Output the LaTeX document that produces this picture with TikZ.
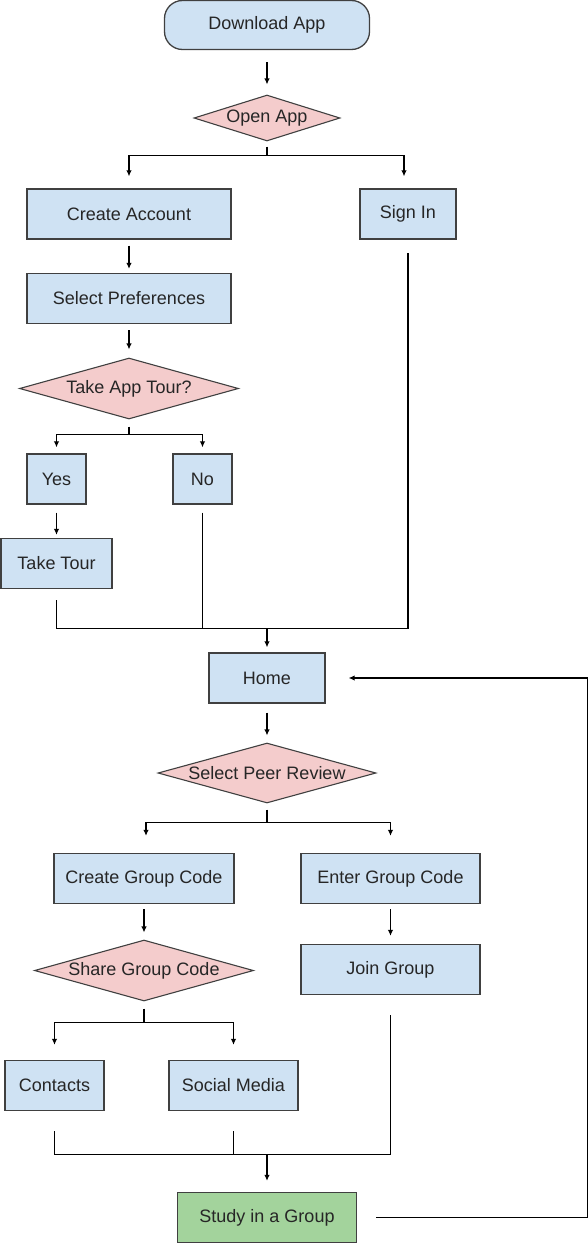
\documentclass[tikz,border=0pt]{standalone}
\usepackage{fontspec}
\setmainfont{Liberation Sans}
\usetikzlibrary{shapes.geometric,arrows.meta}
\definecolor{boxblue}{HTML}{CFE2F3}
\definecolor{decpink}{HTML}{F4CCCC}
\definecolor{endgreen}{HTML}{A3D39C}
\definecolor{rim}{HTML}{404040}
\definecolor{ink}{HTML}{262626}
\tikzset{
	box/.style={draw=rim, fill=boxblue, line width=1.3pt, minimum height=50, inner sep=0, text=ink},
	startbox/.style={box, rounded corners=18pt},
	decide/.style={diamond, draw=rim, fill=decpink, line width=1.1pt, inner sep=0, aspect=3.5, text=ink},
	arr/.style={line width=1.2pt, -{Latex[length=6pt,width=5.5pt]}},
	link/.style={line width=1.2pt}
}
\begin{document}
\begin{tikzpicture}[x=1pt, y=-1pt, font=\fontsize{18}{21}\selectfont]
	\useasboundingbox (0,0) rectangle (588,1245);
	% top part
	\node[startbox, minimum width=205, minimum height=49] (dl) at (267,25) {Download App};
	\node[decide, minimum width=146, minimum height=46] (open) at (267,118) {Open App};
	\node[box, minimum width=204] (acct) at (129,214) {Create Account};
	\node[box, minimum width=96] (sign) at (408,214) {Sign In};
	\node[box, minimum width=204] (pref) at (129,298.5) {Select Preferences};
	\node[decide, minimum width=219, minimum height=61] (tour) at (129,388.5) {Take App Tour?};
	\node[box, minimum width=59] (yes) at (56.5,479) {Yes};
	\node[box, minimum width=59] (no) at (202.5,479) {No};
	\node[box, minimum width=111] (take) at (56.5,563.5) {Take Tour};
	% middle part
	\node[box, minimum width=116] (home) at (267,678) {Home};
	\node[decide, minimum width=218, minimum height=60] (peer) at (267,773) {Select Peer Review};
	\node[box, minimum width=180] (create) at (144,878.5) {Create Group Code};
	\node[box, minimum width=179] (enter) at (390.5,878.5) {Enter Group Code};
	\node[decide, minimum width=219, minimum height=61] (share) at (144,970.5) {Share Group Code};
	\node[box, minimum width=179] (join) at (390.5,969.5) {Join Group};
	\node[box, minimum width=99] (cont) at (54.5,1085.5) {Contacts};
	\node[box, minimum width=129] (social) at (233.5,1085.5) {Social Media};
	\node[box, fill=endgreen, minimum width=179] (study) at (267,1217.5) {Study in a Group};

	\path (open.south) ++(0,14) coordinate (s1);
	\path (tour.south) ++(0,15) coordinate (s2);
	\path (home.north) ++(0,-24) coordinate (m1);
	\path (peer.south) ++(0,19) coordinate (s3);
	\path (share.south) ++(0,21) coordinate (s4);
	\path (study.north) ++(0,-37) coordinate (m2);
	\path (study.east) ++(230,0) coordinate (fb);

	\draw[arr] ([yshift=-12pt]dl.south) -- ([yshift=10pt]open.north);
	\draw[link] ([yshift=-5pt]open.south) -- (s1);
	\draw[arr] (s1) -| ([yshift=12pt]acct.north);
	\draw[arr] (s1) -| ([xshift=-4pt,yshift=12pt]sign.north);
	\draw[arr] ([yshift=-6pt]acct.south) -- ([yshift=4pt]pref.north);
	\draw[arr] ([yshift=-6pt]pref.south) -- ([yshift=8pt]tour.north);
	\draw[link] ([yshift=-7pt]tour.south) -- (s2);
	\draw[arr] (s2) -| ([yshift=6pt]yes.north);
	\draw[arr] (s2) -| ([yshift=6pt]no.north);
	\draw[arr] ([yshift=-8pt]yes.south) -- ([yshift=3pt]take.north);
	\draw[link] ([yshift=-11pt]take.south) -- (take.south |- m1) -- (sign.south |- m1) -- ([yshift=-13pt]sign.south);
	\draw[link] ([yshift=-8pt]no.south) -- (no.south |- m1);
	\draw[arr] (m1) -- ([yshift=5pt]home.north);

	\draw[arr] ([yshift=-9pt]home.south) -- ([yshift=7pt]peer.north);
	\draw[link] ([yshift=-6pt]peer.south) -- (s3);
	\draw[arr] (s3) -| ([xshift=2pt,yshift=17pt]create.north);
	\draw[arr] (s3) -| ([yshift=17pt]enter.north);
	\draw[arr] ([yshift=-5pt]create.south) -- ([yshift=7pt]share.north);
	\draw[arr] ([yshift=-5pt]enter.south) -- ([yshift=8pt]join.north);
	\draw[link] ([yshift=-7pt]share.south) -- (s4);
	\draw[arr] (s4) -| ([yshift=15pt]cont.north);
	\draw[arr] (s4) -| ([yshift=15pt]social.north);
	\draw[link] ([yshift=-20pt]cont.south) -- (cont.south |- m2) -- (join.south |- m2) -- ([yshift=-20pt]join.south);
	\draw[link] ([yshift=-20pt]social.south) -- (social.south |- m2);
	\draw[arr] (m2) -- ([yshift=11pt]study.north);
	\draw[arr] ([xshift=19pt]study.east) -- (fb) |- ([xshift=23pt]home.east);
\end{tikzpicture}
\end{document}
